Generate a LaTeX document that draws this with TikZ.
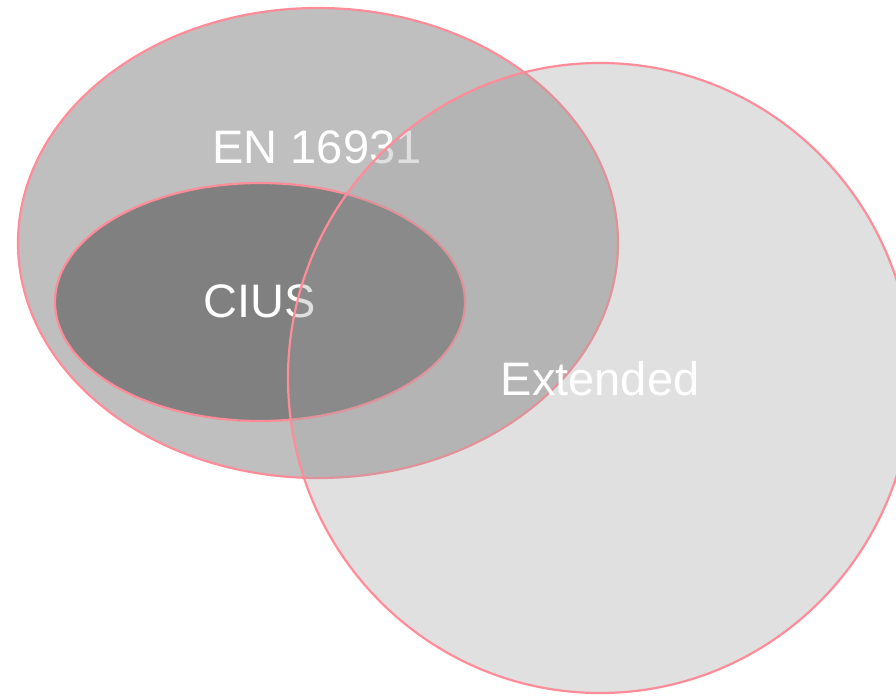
\documentclass[tikz,border=0pt]{standalone}
\usepackage{fontspec}
\setmainfont{Liberation Sans}
\usetikzlibrary{shapes.geometric}
\definecolor{edge}{RGB}{255,140,152}
\definecolor{enfill}{RGB}{191,191,191}
\definecolor{ciusfill}{RGB}{128,128,128}
\definecolor{extfill}{RGB}{160,160,160}
\tikzset{
  setshape/.style={ellipse, draw=edge, line width=2.2pt, inner sep=0pt, outer sep=0pt},
  lbl/.style={text=white, font=\fontsize{47}{56}\selectfont, inner sep=0pt, anchor=base}
}
\begin{document}
\begin{tikzpicture}[x=1pt,y=-1pt]
\useasboundingbox (0,0) rectangle (896,696);
\clip (0,0) rectangle (896,696);
\node[setshape, fill=enfill, minimum width=600pt, minimum height=470pt] (en) at (318,243) {};
\node[lbl] (enl) at (317,163) {EN 16931};
\node[setshape, fill=ciusfill, minimum width=410pt, minimum height=238pt] (cius) at (260,302) {};
\node[lbl] (ciusl) at (260,317) {CIUS};
\node[setshape, fill=extfill, fill opacity=0.33, draw opacity=1, minimum width=624pt, minimum height=630pt] (ext) at (600,378) {};
\node[lbl] (extl) at (600,395) {Extended};
\end{tikzpicture}
\end{document}
